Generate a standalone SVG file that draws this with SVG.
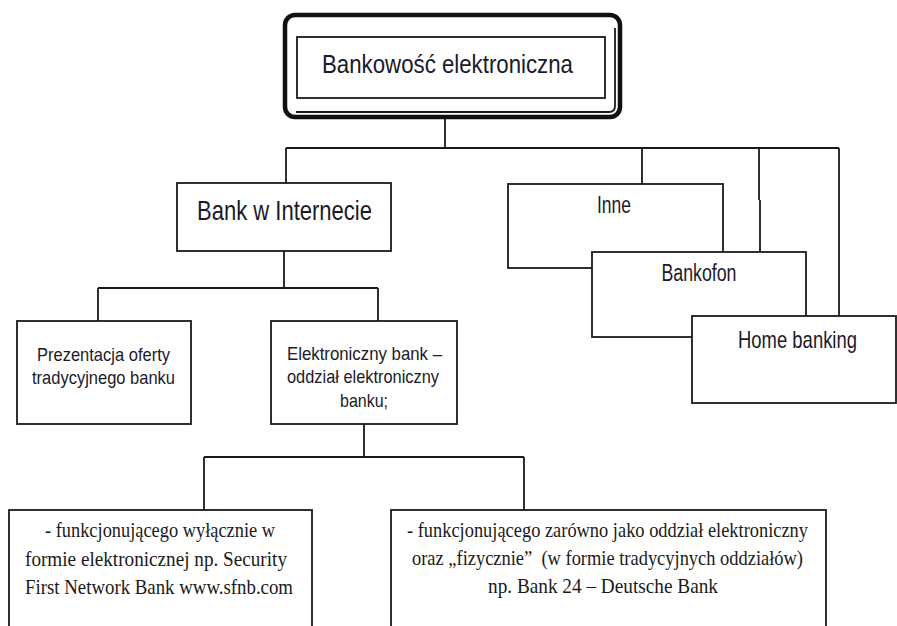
<svg xmlns="http://www.w3.org/2000/svg" width="897" height="626" viewBox="0 0 897 626">
<style>
.box{fill:#fff;stroke:#1a1a1a;stroke-width:1.8}
.ln{fill:none;stroke:#1a1a1a;stroke-width:1.8}
.s{font-family:"Liberation Sans",Arial,sans-serif;fill:#1a1a2a;text-anchor:middle}
.t{font-family:"Liberation Serif","Times New Roman",serif;fill:#1a1a1a;text-anchor:middle;font-size:21px}
</style>
<rect width="897" height="626" fill="#fff"/>
<g id="connectors">
<path class="ln" d="M445,117 V148 M286,148 H839 M286,148 V183 M642,148 V184 M759,148 V200 M760,200 V252 M839,148 V316"/>
<path class="ln" d="M284,251 V288 M98,288 H378 M98,288 V321 M378,288 V321"/>
<path class="ln" d="M364,424 V457 M204,457 H524 M204,457 V510 M524,457 V510"/>
</g>
<g id="n-root">
<rect x="285" y="15" width="335" height="102" rx="10" fill="#fff" stroke="#111" stroke-width="4.5"/>
<path class="ln" d="M615,28 V106 Q615,112 609,112 H296" stroke-width="1.4"/>
<rect class="box" x="297" y="37" width="308" height="61"/>
<text class="s" x="447.5" y="73" font-size="26" textLength="251" lengthAdjust="spacingAndGlyphs">Bankowość elektroniczna</text>
</g>
<g id="n-bank-internet">
<rect class="box" x="177" y="183" width="214" height="68"/>
<text class="s" x="284.5" y="220" font-size="28" textLength="175" lengthAdjust="spacingAndGlyphs">Bank w Internecie</text>
</g>
<g id="n-inne">
<rect class="box" x="508" y="184" width="215" height="84"/>
<text class="s" x="614" y="213" font-size="24" textLength="34" lengthAdjust="spacingAndGlyphs">Inne</text>
</g>
<g id="n-bankofon">
<rect class="box" x="592" y="252" width="214" height="85"/>
<text class="s" x="699" y="281" font-size="23" textLength="75" lengthAdjust="spacingAndGlyphs">Bankofon</text>
</g>
<g id="n-home">
<rect class="box" x="692" y="316" width="204" height="87"/>
<text class="s" x="797.5" y="348" font-size="24" textLength="119" lengthAdjust="spacingAndGlyphs">Home banking</text>
</g>
<g id="n-prezentacja">
<rect class="box" x="17" y="321" width="174" height="103"/>
<text class="s" x="103.5" y="361" font-size="19" textLength="133" lengthAdjust="spacingAndGlyphs">Prezentacja oferty</text>
<text class="s" x="103.5" y="384" font-size="19" textLength="143" lengthAdjust="spacingAndGlyphs">tradycyjnego banku</text>
</g>
<g id="n-elektroniczny">
<rect class="box" x="271" y="321" width="186" height="103"/>
<text class="s" x="364.5" y="360" font-size="19" textLength="155" lengthAdjust="spacingAndGlyphs">Elektroniczny bank –</text>
<text class="s" x="363" y="383" font-size="19" textLength="152" lengthAdjust="spacingAndGlyphs">oddział elektroniczny</text>
<text class="s" x="364" y="407" font-size="19" textLength="48" lengthAdjust="spacingAndGlyphs">banku;</text>
</g>
<g id="n-wylacznie">
<rect class="box" x="9" y="510" width="303" height="140"/>
<text class="t" x="160" y="537" textLength="230" lengthAdjust="spacingAndGlyphs">- funkcjonującego wyłącznie w</text>
<text class="t" x="156" y="566" textLength="262" lengthAdjust="spacingAndGlyphs">formie elektronicznej np. Security</text>
<text class="t" x="159" y="594" textLength="268" lengthAdjust="spacingAndGlyphs">First Network Bank www.sfnb.com</text>
</g>
<g id="n-zarowno">
<rect class="box" x="391" y="510" width="435" height="140"/>
<text class="t" x="607.5" y="537" textLength="401" lengthAdjust="spacingAndGlyphs">- funkcjonującego zarówno jako oddział elektroniczny</text>
<text class="t" x="607.5" y="565" textLength="391" lengthAdjust="spacingAndGlyphs">oraz „fizycznie”&#160; (w formie tradycyjnych oddziałów)</text>
<text class="t" x="603" y="593" textLength="230" lengthAdjust="spacingAndGlyphs">np. Bank 24 – Deutsche Bank</text>
</g>
</svg>
